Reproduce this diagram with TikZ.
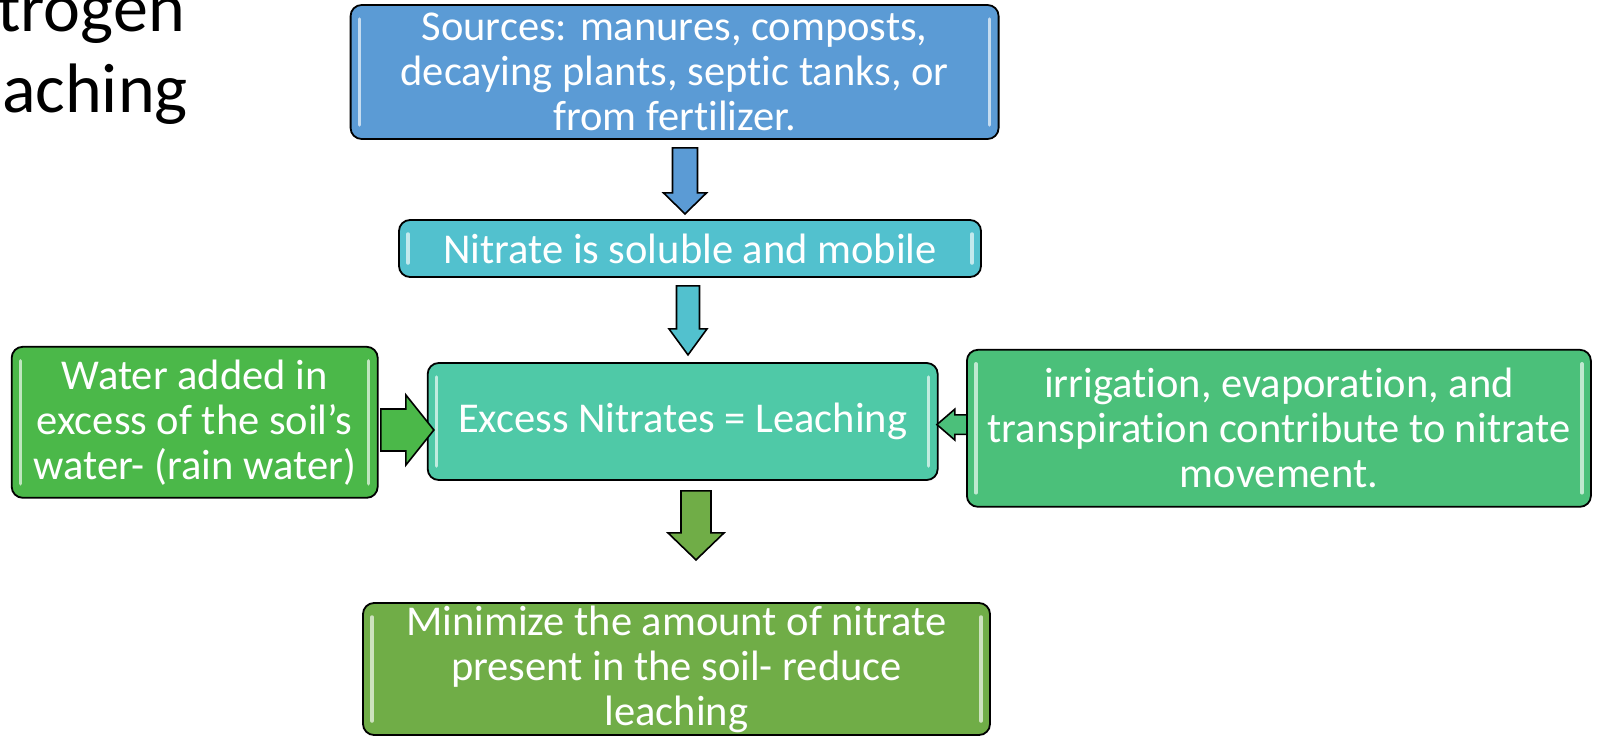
\documentclass[tikz,border=0pt]{standalone}
\usepackage{fontspec}
\setmainfont[Ligatures=NoCommon]{Carlito}
\usetikzlibrary{calc}

\definecolor{cTop}{HTML}{5B9BD5}
\definecolor{cMid}{HTML}{52C1CE}
\definecolor{cCtr}{HTML}{4FC9A7}
\definecolor{cLeft}{HTML}{4BB849}
\definecolor{cRight}{HTML}{4BC07A}
\definecolor{cBot}{HTML}{70AD47}

\begin{document}
\begin{tikzpicture}[x=1pt, y=-1pt,
  box/.style={draw=black, line width=1.8pt, rounded corners=11pt, inner sep=0pt,
    align=center, text=white, font=\fontsize{42.5}{45}\selectfont,
    path picture={
      \draw[line width=3.5pt, line cap=round, draw=white, draw opacity=0.65]
        ([xshift=9pt, yshift=-14pt]path picture bounding box.north west) --
        ([xshift=9pt, yshift=14pt]path picture bounding box.south west)
        ([xshift=-9pt, yshift=-14pt]path picture bounding box.north east) --
        ([xshift=-9pt, yshift=14pt]path picture bounding box.south east);
    }},
  blockarrow/.style={draw=black, line width=1.6pt, line join=miter},
  title/.style={inner sep=0pt, text=black, font=\fontsize{70}{80}\selectfont}
]
\useasboundingbox (0,0) rectangle (1597,736);

% heading, running off the left edge
\node[title, anchor=base east] (t1) at (185,31) {trogen};
\node[title, anchor=base east] (t2) at (188,112) {aching};

% boxes
\node[box, fill=cTop, minimum width=648pt, minimum height=134pt] (src) at (674.6,72)
  {Sources: manures, composts,\\decaying plants, septic tanks, or\\from fertilizer.};
\node[box, fill=cMid, minimum width=582pt, minimum height=57pt] (mid) at (690,248.5)
  {Nitrate is soluble and mobile};
\node[box, fill=cCtr, minimum width=510pt, minimum height=117pt] (ctr) at (682.7,421.5)
  {Excess Nitrates = Leaching};
\node[box, fill=cLeft, minimum width=366pt, minimum height=151pt] (leftb) at (194.7,422.3)
  {Water added in\\excess of the soil’s\\water- (rain water)};
\node[box, fill=cRight, minimum width=624pt, minimum height=157pt] (rightb) at (1278.9,428.3)
  {irrigation, evaporation, and\\transpiration contribute to nitrate\\movement.};
\node[box, fill=cBot, minimum width=627pt, minimum height=132pt] (bot) at (676.5,669)
  {Minimize the amount of nitrate\\present in the soil- reduce\\leaching};

% block arrows between the boxes
\coordinate (a1) at ($(src.south)+(10.4,8)$);
\draw[blockarrow, fill=cTop] (a1) ++(-12.5,0) -- ++(25,0) -- ++(0,45) -- ++(9,0)
  -- ++(-21.5,21) -- ++(-21.5,-21) -- ++(9,0) -- cycle;

\coordinate (a2) at ($(mid.south)+(-2,8)$);
\draw[blockarrow, fill=cMid] (a2) ++(-11.5,0) -- ++(23,0) -- ++(0,43) -- ++(7.5,0)
  -- ++(-19,26) -- ++(-19,-26) -- ++(7.5,0) -- cycle;

\coordinate (a3) at ($(ctr.south)+(13.3,10)$);
\draw[blockarrow, fill=cBot] (a3) ++(-15,0) -- ++(30,0) -- ++(0,42) -- ++(13,0)
  -- ++(-28,27) -- ++(-28,-27) -- ++(13,0) -- cycle;

\coordinate (a4) at ($(leftb.east)+(2.3,7.7)$);
\draw[blockarrow, fill=cLeft] (a4) ++(0,-21) -- ++(25,0) -- ++(0,-14) -- ++(28,35)
  -- ++(-28,35) -- ++(0,-14) -- ++(-25,0) -- cycle;

\coordinate (a5) at ($(rightb.west)+(0.9,-3.7)$);
\draw[blockarrow, fill=cRight] (a5) ++(0,-9.7) -- ++(-12,0) -- ++(0,-5.8) -- ++(-18,15.5)
  -- ++(18,15.5) -- ++(0,-5.8) -- ++(12,0) -- cycle;
\end{tikzpicture}
\end{document}
